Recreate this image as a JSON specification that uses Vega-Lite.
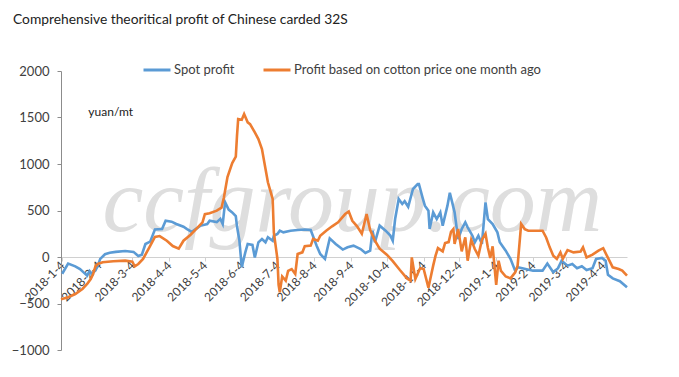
{
  "$schema": "https://vega.github.io/schema/vega-lite/v6.json",
  "width": 566,
  "height": 279,
  "autosize": "none",
  "padding": {"left": 61, "top": 71, "right": 52, "bottom": 27},
  "background": "white",
  "config": {"view": {"stroke": null}, "font": "Lato"},
  "title": {"text": "Comprehensive theoritical profit of Chinese carded 32S", "anchor": "start", "frame": "group", "dx": -48, "offset": 28, "fontSize": 13.8, "fontWeight": "normal", "font": "Lato", "color": "#222222"},
  "datasets": {
    "spot": [
      {"date":"2018-01-04","value":-180},{"date":"2018-01-09","value":-70},{"date":"2018-01-15","value":-100},{"date":"2018-01-19","value":-130},{"date":"2018-01-22","value":-165},{"date":"2018-01-25","value":-200},{"date":"2018-01-27","value":-150},{"date":"2018-01-29","value":-180},{"date":"2018-02-01","value":-145},{"date":"2018-02-03","value":-90},{"date":"2018-02-05","value":-20},{"date":"2018-02-09","value":30},{"date":"2018-02-13","value":45},{"date":"2018-02-18","value":55},{"date":"2018-02-26","value":65},{"date":"2018-03-05","value":55},{"date":"2018-03-09","value":10},{"date":"2018-03-12","value":25},{"date":"2018-03-15","value":140},{"date":"2018-03-19","value":165},{"date":"2018-03-23","value":295},{"date":"2018-03-29","value":300},{"date":"2018-04-01","value":390},{"date":"2018-04-06","value":380},{"date":"2018-04-10","value":355},{"date":"2018-04-16","value":325},{"date":"2018-04-19","value":300},{"date":"2018-04-23","value":270},{"date":"2018-04-30","value":335},{"date":"2018-05-06","value":355},{"date":"2018-05-08","value":390},{"date":"2018-05-14","value":375},{"date":"2018-05-17","value":410},{"date":"2018-05-19","value":355},{"date":"2018-05-21","value":590},{"date":"2018-05-24","value":510},{"date":"2018-05-27","value":480},{"date":"2018-05-30","value":440},{"date":"2018-05-31","value":330},{"date":"2018-06-02","value":180},{"date":"2018-06-04","value":-110},{"date":"2018-06-07","value":50},{"date":"2018-06-09","value":140},{"date":"2018-06-13","value":130},{"date":"2018-06-15","value":-5},{"date":"2018-06-18","value":158},{"date":"2018-06-21","value":194},{"date":"2018-06-24","value":158},{"date":"2018-06-26","value":212},{"date":"2018-06-30","value":175},{"date":"2018-07-01","value":229},{"date":"2018-07-04","value":247},{"date":"2018-07-06","value":283},{"date":"2018-07-09","value":265},{"date":"2018-07-15","value":283},{"date":"2018-07-21","value":290},{"date":"2018-07-27","value":295},{"date":"2018-08-01","value":290},{"date":"2018-08-06","value":122},{"date":"2018-08-09","value":32},{"date":"2018-08-13","value":-21},{"date":"2018-08-17","value":200},{"date":"2018-08-22","value":140},{"date":"2018-08-28","value":80},{"date":"2018-09-01","value":104},{"date":"2018-09-06","value":122},{"date":"2018-09-12","value":86},{"date":"2018-09-16","value":43},{"date":"2018-09-20","value":68},{"date":"2018-09-22","value":283},{"date":"2018-09-24","value":158},{"date":"2018-09-28","value":337},{"date":"2018-10-03","value":283},{"date":"2018-10-07","value":230},{"date":"2018-10-09","value":175},{"date":"2018-10-11","value":408},{"date":"2018-10-14","value":624},{"date":"2018-10-17","value":570},{"date":"2018-10-19","value":600},{"date":"2018-10-22","value":540},{"date":"2018-10-26","value":731},{"date":"2018-10-30","value":785},{"date":"2018-10-31","value":785},{"date":"2018-11-03","value":642},{"date":"2018-11-05","value":552},{"date":"2018-11-08","value":498},{"date":"2018-11-09","value":301},{"date":"2018-11-12","value":480},{"date":"2018-11-15","value":408},{"date":"2018-11-18","value":480},{"date":"2018-11-20","value":337},{"date":"2018-11-24","value":552},{"date":"2018-11-26","value":690},{"date":"2018-11-28","value":588},{"date":"2018-11-30","value":480},{"date":"2018-12-03","value":194},{"date":"2018-12-06","value":301},{"date":"2018-12-09","value":373},{"date":"2018-12-11","value":319},{"date":"2018-12-15","value":229},{"date":"2018-12-17","value":158},{"date":"2018-12-20","value":229},{"date":"2018-12-23","value":140},{"date":"2018-12-26","value":588},{"date":"2018-12-28","value":408},{"date":"2019-01-01","value":355},{"date":"2019-01-05","value":265},{"date":"2019-01-07","value":158},{"date":"2019-01-12","value":68},{"date":"2019-01-16","value":-20},{"date":"2019-01-20","value":-150},{"date":"2019-01-22","value":-110},{"date":"2019-01-26","value":-120},{"date":"2019-02-04","value":-147},{"date":"2019-02-12","value":-147},{"date":"2019-02-16","value":-70},{"date":"2019-02-21","value":-165},{"date":"2019-02-25","value":-120},{"date":"2019-02-28","value":-40},{"date":"2019-03-05","value":-93},{"date":"2019-03-09","value":-75},{"date":"2019-03-13","value":-120},{"date":"2019-03-17","value":-100},{"date":"2019-03-21","value":-140},{"date":"2019-03-26","value":-120},{"date":"2019-03-29","value":-21},{"date":"2019-04-03","value":-10},{"date":"2019-04-06","value":-40},{"date":"2019-04-08","value":-190},{"date":"2019-04-12","value":-230},{"date":"2019-04-18","value":-260},{"date":"2019-04-24","value":-326}
    ],
    "lagged": [
      {"date":"2018-01-03","value":-455},{"date":"2018-01-09","value":-433},{"date":"2018-01-15","value":-398},{"date":"2018-01-21","value":-344},{"date":"2018-01-25","value":-290},{"date":"2018-01-28","value":-237},{"date":"2018-01-30","value":-183},{"date":"2018-02-01","value":-100},{"date":"2018-02-03","value":-75},{"date":"2018-02-07","value":-57},{"date":"2018-02-16","value":-46},{"date":"2018-02-26","value":-39},{"date":"2018-03-04","value":-50},{"date":"2018-03-06","value":-100},{"date":"2018-03-09","value":-75},{"date":"2018-03-13","value":-21},{"date":"2018-03-19","value":120},{"date":"2018-03-23","value":215},{"date":"2018-03-27","value":225},{"date":"2018-04-02","value":175},{"date":"2018-04-07","value":118},{"date":"2018-04-12","value":90},{"date":"2018-04-16","value":175},{"date":"2018-04-22","value":240},{"date":"2018-04-28","value":319},{"date":"2018-05-02","value":373},{"date":"2018-05-04","value":460},{"date":"2018-05-08","value":470},{"date":"2018-05-14","value":498},{"date":"2018-05-18","value":530},{"date":"2018-05-20","value":640},{"date":"2018-05-23","value":860},{"date":"2018-05-27","value":1010},{"date":"2018-05-30","value":1080},{"date":"2018-05-31","value":1300},{"date":"2018-06-01","value":1483},{"date":"2018-06-04","value":1476},{"date":"2018-06-06","value":1537},{"date":"2018-06-09","value":1448},{"date":"2018-06-11","value":1429},{"date":"2018-06-15","value":1340},{"date":"2018-06-18","value":1268},{"date":"2018-06-21","value":1161},{"date":"2018-06-24","value":946},{"date":"2018-06-26","value":803},{"date":"2018-06-30","value":624},{"date":"2018-07-01","value":265},{"date":"2018-07-04","value":-21},{"date":"2018-07-05","value":-300},{"date":"2018-07-06","value":-380},{"date":"2018-07-08","value":-210},{"date":"2018-07-11","value":-255},{"date":"2018-07-13","value":-150},{"date":"2018-07-16","value":-130},{"date":"2018-07-19","value":-183},{"date":"2018-07-21","value":32},{"date":"2018-07-25","value":50},{"date":"2018-07-27","value":115},{"date":"2018-08-01","value":122},{"date":"2018-08-03","value":194},{"date":"2018-08-07","value":175},{"date":"2018-08-09","value":229},{"date":"2018-08-14","value":283},{"date":"2018-08-19","value":330},{"date":"2018-08-24","value":373},{"date":"2018-08-30","value":462},{"date":"2018-09-02","value":490},{"date":"2018-09-05","value":390},{"date":"2018-09-09","value":330},{"date":"2018-09-13","value":250},{"date":"2018-09-17","value":462},{"date":"2018-09-20","value":290},{"date":"2018-09-24","value":175},{"date":"2018-09-28","value":90},{"date":"2018-10-04","value":25},{"date":"2018-10-09","value":-45},{"date":"2018-10-15","value":-140},{"date":"2018-10-21","value":-230},{"date":"2018-10-24","value":-255},{"date":"2018-10-25","value":-4},{"date":"2018-10-28","value":-237},{"date":"2018-11-01","value":-120},{"date":"2018-11-04","value":-129},{"date":"2018-11-08","value":-330},{"date":"2018-11-12","value":-93},{"date":"2018-11-14","value":14},{"date":"2018-11-16","value":95},{"date":"2018-11-20","value":60},{"date":"2018-11-22","value":150},{"date":"2018-11-25","value":160},{"date":"2018-11-27","value":270},{"date":"2018-11-29","value":301},{"date":"2018-11-30","value":140},{"date":"2018-12-03","value":301},{"date":"2018-12-06","value":60},{"date":"2018-12-09","value":212},{"date":"2018-12-11","value":-40},{"date":"2018-12-14","value":185},{"date":"2018-12-17","value":86},{"date":"2018-12-20","value":14},{"date":"2018-12-23","value":185},{"date":"2018-12-26","value":250},{"date":"2018-12-28","value":100},{"date":"2018-12-30","value":-10},{"date":"2019-01-01","value":115},{"date":"2019-01-04","value":-300},{"date":"2019-01-06","value":-40},{"date":"2019-01-08","value":-150},{"date":"2019-01-12","value":-210},{"date":"2019-01-16","value":-230},{"date":"2019-01-20","value":-165},{"date":"2019-01-22","value":-93},{"date":"2019-01-25","value":355},{"date":"2019-01-28","value":300},{"date":"2019-01-31","value":283},{"date":"2019-02-10","value":283},{"date":"2019-02-12","value":283},{"date":"2019-02-15","value":210},{"date":"2019-02-18","value":104},{"date":"2019-02-21","value":14},{"date":"2019-02-24","value":-21},{"date":"2019-02-27","value":50},{"date":"2019-03-01","value":-20},{"date":"2019-03-05","value":75},{"date":"2019-03-10","value":50},{"date":"2019-03-16","value":60},{"date":"2019-03-18","value":104},{"date":"2019-03-21","value":-4},{"date":"2019-03-26","value":25},{"date":"2019-03-31","value":68},{"date":"2019-04-04","value":95},{"date":"2019-04-08","value":-10},{"date":"2019-04-12","value":-111},{"date":"2019-04-17","value":-129},{"date":"2019-04-20","value":-147},{"date":"2019-04-24","value":-201}
    ]
  },
  "layer": [
    {
      "data": {"values": [{}]},
      "mark": {"type": "text", "text": "ccfgroup.com", "font": "Liberation Serif", "fontStyle": "italic", "fontSize": 92, "color": "#dedede", "align": "center", "baseline": "alphabetic"},
      "encoding": {
        "x": {"datum": {"year": 2018, "month": 9, "date": 5, "utc": true}, "type": "temporal"},
        "y": {"datum": 280, "type": "quantitative"}
      }
    },
    {
      "data": {"name": "spot"},
      "transform": [{"fold": ["value"], "as": ["k", "v"]}],
      "mark": {"type": "line", "strokeWidth": 2.6},
      "encoding": {
        "x": {
          "field": "date", "type": "temporal",
          "scale": {"type": "utc", "domain": [{"year": 2018, "month": 1, "date": 3, "utc": true}, {"year": 2019, "month": 4, "date": 24, "utc": true}]},
          "axis": {
            "title": null, "grid": false, "offset": -93, "tickCount": 40,
            "values": [
              {"year":2018,"month":1,"date":4,"utc":true},{"year":2018,"month":2,"date":4,"utc":true},{"year":2018,"month":3,"date":4,"utc":true},{"year":2018,"month":4,"date":4,"utc":true},{"year":2018,"month":5,"date":4,"utc":true},{"year":2018,"month":6,"date":4,"utc":true},{"year":2018,"month":7,"date":4,"utc":true},{"year":2018,"month":8,"date":4,"utc":true},{"year":2018,"month":9,"date":4,"utc":true},{"year":2018,"month":10,"date":4,"utc":true},{"year":2018,"month":11,"date":4,"utc":true},{"year":2018,"month":12,"date":4,"utc":true},{"year":2019,"month":1,"date":4,"utc":true},{"year":2019,"month":2,"date":4,"utc":true},{"year":2019,"month":3,"date":4,"utc":true},{"year":2019,"month":4,"date":4,"utc":true}
            ],
            "labelExpr": "utcFormat(datum.value, '%Y-%-m-%-d')",
            "labelAngle": -45, "labelAlign": "right", "labelBaseline": "middle", "labelFontSize": 12, "labelColor": "#404040", "labelOverlap": false, "labelSeparation": 0, "labelBound": false, "labelPadding": 2, "labelFont": "Lato",
            "domainColor": "#d0d0d0", "tickColor": "#d0d0d0", "tickSize": 4
          }
        },
        "y": {
          "field": "v", "type": "quantitative",
          "scale": {"domain": [-1000, 2000], "nice": false},
          "axis": {"title": null, "grid": false, "values": [-1000, -500, 0, 500, 1000, 1500, 2000], "format": "d", "labelFontSize": 13, "labelColor": "#404040", "labelFont": "Lato", "labelPadding": 8, "domainColor": "#8c8c8c", "tickColor": "#8c8c8c", "tickSize": 4}
        },
        "color": {
          "datum": "Spot profit", "type": "nominal",
          "scale": {"domain": ["Spot profit", "Profit based on cotton price one month ago"], "range": ["#5B9BD5", "#ED7D31"]},
          "legend": {"orient": "none", "legendX": 81, "legendY": -16, "direction": "horizontal", "title": null, "symbolType": "stroke", "symbolStrokeWidth": 3, "symbolSize": 729, "labelFontSize": 13, "labelFont": "Lato", "labelColor": "#404040", "labelLimit": 0, "columnPadding": 22, "labelOffset": 2}
        }
      }
    },
    {
      "data": {"name": "lagged"},
      "transform": [{"fold": ["value"], "as": ["k", "v"]}],
      "mark": {"type": "line", "strokeWidth": 2.6},
      "encoding": {
        "x": {"field": "date", "type": "temporal"},
        "y": {"field": "v", "type": "quantitative"},
        "color": {"datum": "Profit based on cotton price one month ago", "type": "nominal"}
      }
    },
    {
      "data": {"values": [{}]},
      "mark": {"type": "text", "text": "yuan/mt", "fontSize": 12, "font": "Lato", "color": "#222222", "align": "left", "baseline": "middle"},
      "encoding": {
        "x": {"datum": {"year": 2018, "month": 1, "date": 26, "utc": true}, "type": "temporal"},
        "y": {"datum": 1560, "type": "quantitative"}
      }
    }
  ]
}
